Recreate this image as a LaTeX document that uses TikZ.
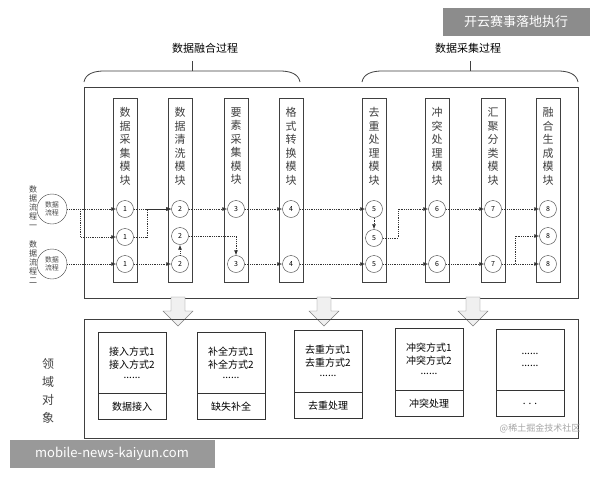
\documentclass[tikz,border=0pt]{standalone}
\usepackage{fontspec}
\setmainfont{Noto Sans CJK SC}
\usetikzlibrary{arrows.meta}

\tikzset{
  colbox/.style={draw=black!75,minimum width=24pt,minimum height=184pt,inner sep=0pt},
  coltext/.style={align=center,font=\fontsize{11}{13.5}\selectfont,text=black!75},
  numdot/.style={circle,draw=black!75,fill=white,minimum size=17pt,inner sep=0pt,font=\fontsize{7}{8}\selectfont},
  srcdot/.style={circle,draw=black!75,minimum size=30pt,inner sep=0pt,align=center,font=\fontsize{7}{8}\selectfont,text=black!70},
  flow/.style={densely dotted,thick,black!80,-{Latex[length=5pt,width=4pt]}},
  objbox/.style={draw=black!80,minimum width=68pt,inner sep=0pt},
  bigarrow/.style={draw=black!50,fill=black!6},
  brace/.style={draw=black!75,thick}
}

\begin{document}
\begin{tikzpicture}[x=1pt,y=-1pt]
\useasboundingbox (0,0) rectangle (600,480);
\fill[white] (0,0) rectangle (600,480);

% braces and titles
\draw[brace] (84,82) to[out=80,in=180] (104,71) -- (280,71) to[out=0,in=100] (300,82);
\draw[brace] (192,71) -- (192,61);
\node[font=\fontsize{11}{12}\selectfont] (t1) at (205,48) {数据融合过程};
\draw[brace] (362,82) to[out=80,in=180] (382,71) -- (558,71) to[out=0,in=100] (578,82);
\draw[brace] (470,71) -- (470,61);
\node[font=\fontsize{11}{12}\selectfont] (t2) at (468,48) {数据采集过程};

% upper frame
\draw[black!75,thick] (84,87) rectangle (578,298);

% module columns
\foreach \x/\txt [count=\i] in {125/数\\据\\采\\集\\模\\块, 180/数\\据\\清\\洗\\模\\块,
    236/要\\素\\采\\集\\模\\块, 291/格\\式\\转\\换\\模\\块, 374/去\\重\\处\\理\\模\\块,
    437/冲\\突\\处\\理\\模\\块, 493/汇\\聚\\分\\类\\模\\块, 548/融\\合\\生\\成\\模\\块} {
  \node[colbox] (c\i) at (\x,190) {};
  \node[coltext,anchor=north] (l\i) at (\x,104) {\txt};
}

% numbered points
\foreach \n/\x/\r/\y in {1/125/a/209, 1/125/b/237, 1/125/c/264,
    2/180/a/209, 2/180/b/236, 2/180/c/264, 3/236/a/209, 3/236/c/264,
    4/291/a/209, 4/291/c/264, 5/374/a/209, 5/374/b/238, 5/374/c/264,
    6/437/a/209, 6/437/c/264, 7/493/a/209, 7/493/c/264,
    8/548/a/209, 8/548/b/236, 8/548/c/264}
  \node[numdot] (n\n\r) at (\x,\y) {\n};

% data streams
\node[srcdot] (s1) at (52,209) {数据\\流程};
\node[srcdot] (s2) at (52,264) {数据\\流程};
\node[coltext,font=\fontsize{8}{9}\selectfont] (q1) at (33,207) {数\\据\\流\\程\\一};
\node[coltext,font=\fontsize{8}{9}\selectfont] (q2) at (33,262) {数\\据\\流\\程\\二};

\coordinate (b1) at (80,209);
\coordinate (k1) at (147,209);
\coordinate (k5) at (398,209);
\coordinate (k7) at (515,264);

\draw[flow] (s1) -- (n1a);
\draw[flow] (b1) |- (n1b);
\draw[flow] (s2) -- (n1c);
\draw[flow] (n1a) -- (n2a);
\draw[flow] (n1b) -| (k1) -- (n2a);
\draw[flow] (n1c) -- (n2c);
\draw[flow] (n2c) -- (n2b);
\draw[flow] (n2a) -- (n3a);
\draw[flow] (n2b) -| (n3c);
\draw[flow] (n3a) -- (n4a);
\draw[flow] (n3c) -- (n4c);
\draw[flow] (n4a) -- (n5a);
\draw[flow] (n4c) -- (n5c);
\draw[flow] (n5a) -- (n5b);
\draw[flow] (n5b) -| (k5) -- (n6a);
\draw[flow] (n5c) -- (n6c);
\draw[flow] (n6a) -- (n7a);
\draw[flow] (n6c) -- (n7c);
\draw[flow] (n7a) -- (n8a);
\draw[flow] (n7c) -- (n8c);
\draw[flow] (k7) |- (n8b);

% down arrows
\foreach \x in {178,324,473}
  \draw[bigarrow] (\x-7,297) -- (\x+7,297) -- (\x+7,311) -- (\x+15,311) -- (\x,326)
    -- (\x-15,311) -- (\x-7,311) -- cycle;

% lower frame
\draw[black!75,thick] (84,319) rectangle (578,438);
\node[coltext,font=\fontsize{12}{18}\selectfont] (dom) at (48,391) {领\\域\\对\\象};

\foreach \x/\ya/\yb/\la/\lb/\lc [count=\i] in {
    132/332/393/接入方式1/接入方式2/数据接入,
    231/332/393/补全方式1/补全方式2/缺失补全,
    328/330/392/去重方式1/去重方式2/去重处理,
    429/328/390/冲突方式1/冲突方式2/冲突处理} {
  \node[objbox,minimum height={\yb-\ya},align=center,font=\fontsize{10}{13}\selectfont,anchor=north]
    (o\i) at (\x,\ya) {\la\\\lb\\[-3pt]......};
  \node[objbox,minimum height=26pt,font=\fontsize{10}{12}\selectfont,anchor=north]
    (p\i) at (o\i.south) {\lc};
}
\node[objbox,minimum height=61pt,align=center,font=\fontsize{10}{12}\selectfont,anchor=north]
  (o5) at (530,329) {......\\......};
\node[objbox,minimum height=26pt,font=\fontsize{10}{12}\selectfont,anchor=north]
  (p5) at (o5.south) {. . .};

\node[text=black!35,font=\fontsize{9}{10}\selectfont] (wm) at (540,428) {@稀土掘金技术社区};

% overlays
\node[fill=black!45,text=white,minimum width=147pt,minimum height=28pt,font=\fontsize{13}{14}\selectfont]
  (ov1) at (516,22) {开云赛事落地执行};
\node[fill=black!40,text=white,minimum width=205pt,minimum height=28pt,font=\fontsize{13}{14}\selectfont]
  (ov2) at (112,454) {mobile-news-kaiyun.com};
\end{tikzpicture}
\end{document}
